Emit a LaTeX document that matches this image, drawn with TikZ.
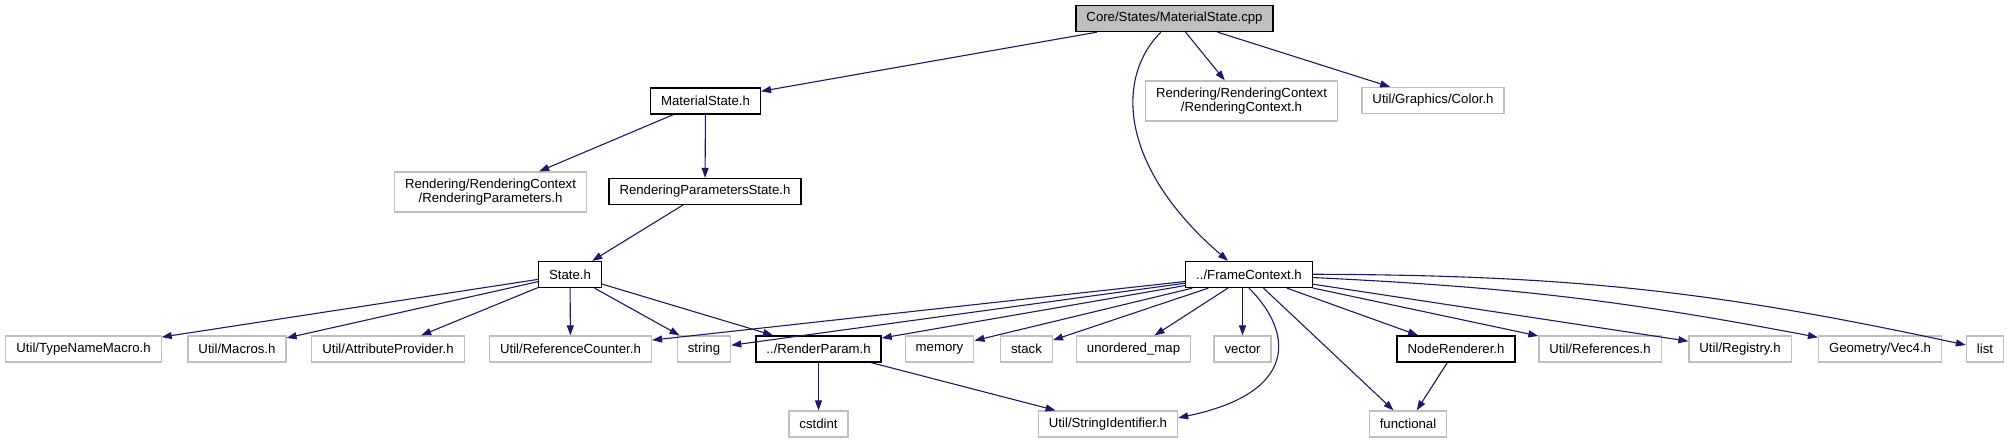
\documentclass[tikz,border=0pt]{standalone}
\usepackage{fontspec}
\setmainfont{Liberation Sans}
\usetikzlibrary{arrows.meta}
\definecolor{edgeblue}{RGB}{25,25,112}
\definecolor{boxgray}{RGB}{191,191,191}

\begin{document}
\begin{tikzpicture}[x=1pt, y=-1pt, >={Triangle[length=10pt,width=7pt]},
  every node/.style={font=\fontsize{13.2}{14}\selectfont, inner xsep=10.5pt, inner ysep=0pt, minimum height=26pt, align=center},
  extbox/.style={draw=boxgray, line width=1.2pt, fill=white},
  ownbox/.style={draw=black, line width=1.3pt, fill=white},
  rootbox/.style={draw=black, line width=1.3pt, fill=boxgray},
  dep/.style={->, draw=edgeblue, line width=1.1pt}]

  \useasboundingbox (0,0) rectangle (2009,443);

  % top levels
  \node[rootbox] (cpp) at (1174.5,18.5) {Core/States/MaterialState.cpp};
  \node[ownbox] (mats) at (705.5,101) {MaterialState.h};
  \node[extbox, minimum height=40pt] (rctx) at (1241.5,101) {Rendering/RenderingContext\\/RenderingContext.h};
  \node[extbox] (color) at (1433,100.5) {Util/Graphics/Color.h};
  \node[extbox, minimum height=40pt] (rpar) at (490.5,192) {Rendering/RenderingContext\\/RenderingParameters.h};
  \node[ownbox] (rps) at (705,191.5) {RenderingParametersState.h};
  \node[ownbox] (state) at (570,274.5) {State.h};
  \node[ownbox] (fctx) at (1249,274.5) {../FrameContext.h};

  % row of headers
  \node[extbox] (tnm) at (83.5,349) {Util/TypeNameMacro.h};
  \node[extbox] (macros) at (237,349) {Util/Macros.h};
  \node[extbox] (attr) at (388,349) {Util/AttributeProvider.h};
  \node[extbox] (refc) at (570.5,349) {Util/ReferenceCounter.h};
  \node[extbox] (str) at (704,349) {string};
  \node[ownbox] (rparam) at (818.5,349) {../RenderParam.h};
  \node[extbox] (mem) at (939.5,349) {memory};
  \node[extbox] (stk) at (1026.5,349) {stack};
  \node[extbox] (umap) at (1133.5,349) {unordered\_map};
  \node[extbox] (vec) at (1242.5,349) {vector};
  \node[ownbox] (nrend) at (1456,349) {NodeRenderer.h};
  \node[extbox] (refs) at (1600,349) {Util/References.h};
  \node[extbox] (reg) at (1740,349) {Util/Registry.h};
  \node[extbox] (vecf) at (1880,349) {Geometry/Vec4.h};
  \node[extbox] (lst) at (1985,349) {list};

  % bottom row
  \node[extbox] (cstd) at (818.5,424) {cstdint};
  \node[extbox] (sid) at (1108,424) {Util/StringIdentifier.h};
  \node[extbox] (func) at (1408,424) {functional};

  % includes of the cpp file
  \draw[dep] (cpp) -- (mats);
  \draw[dep] (cpp.-135) .. controls +(-45,45) and +(-110,-95) .. (fctx.147);
  \draw[dep] (cpp) -- (rctx);
  \draw[dep] (cpp) -- (color);

  \draw[dep] (mats) -- (rpar);
  \draw[dep] (mats) -- (rps);
  \draw[dep] (rps) -- (state);

  \foreach \t in {tnm,macros,attr,refc,str,rparam}
    \draw[dep] (state) -- (\t);

  \foreach \t in {refc,str,rparam,mem,stk,umap,func,nrend,refs,reg}
    \draw[dep] (fctx) -- (\t);
  \draw[dep] (fctx.south -| vec.north) -- (vec);
  \draw[dep] (fctx) to[bend left=4] (vecf);
  \draw[dep] (fctx) to[bend left=6] (lst);
  \draw[dep] (fctx.south) .. controls +(45,45) and +(120,-25) .. (sid.5);

  \draw[dep] (rparam) -- (cstd);
  \draw[dep] (rparam) -- (sid);
  \draw[dep] (nrend) -- (func);

\end{tikzpicture}
\end{document}
